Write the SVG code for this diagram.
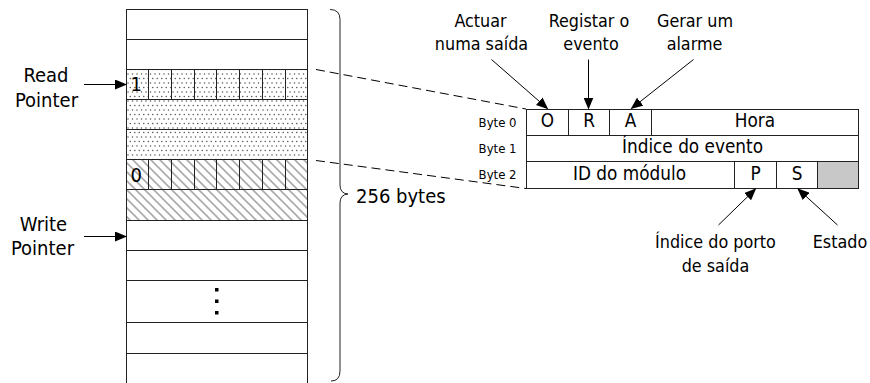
<svg xmlns="http://www.w3.org/2000/svg" width="870" height="383" viewBox="0 0 870 383">
  <style>
    text { font-family: "DejaVu Sans Condensed", "DejaVu Sans", "Liberation Sans", sans-serif; font-stretch: condensed; fill: #000; }
    .big { font-size: 20px; }
    .lbl { font-size: 17.8px; text-anchor: middle; }
    .fld { font-size: 18.8px; text-anchor: middle; }
    .byte { font-size: 13px; text-anchor: end; }
    .ln { stroke: #222; stroke-width: 1; fill: none; }
    .arrow { stroke: #000; stroke-width: 1; fill: none; marker-end: url(#head); }
    .dash { stroke: #000; stroke-width: 1; fill: none; stroke-dasharray: 9 5; }
  </style>
  <defs>
    <marker id="head" markerUnits="userSpaceOnUse" markerWidth="12" markerHeight="10" refX="11" refY="5" orient="auto">
      <path d="M0,0 L12,5 L0,10 Z" fill="#000"/>
    </marker>
    <pattern id="dots" patternUnits="userSpaceOnUse" width="9" height="9">
      <rect width="9" height="9" fill="#fff"/>
      <circle cx="2" cy="2" r="0.75" fill="#555"/>
      <circle cx="6.5" cy="2" r="0.75" fill="#555"/>
      <circle cx="4.25" cy="6.5" r="0.75" fill="#555"/>
      <circle cx="8.75" cy="6.5" r="0.75" fill="#555"/>
      <circle cx="-0.25" cy="6.5" r="0.75" fill="#555"/>
    </pattern>
    <pattern id="hatch" patternUnits="userSpaceOnUse" width="9" height="9">
      <rect width="9" height="9" fill="#fff"/>
      <path d="M-2,-2 L11,11 M-2,7 L2,11 M7,-2 L11,2" stroke="#aaa" stroke-width="1.6"/>
    </pattern>
  </defs>

  <!-- circular buffer of event records -->
  <g id="buffer">
    <rect x="126.5" y="69.5" width="181" height="90" fill="url(#dots)"/>
    <rect x="126.5" y="159.5" width="181" height="61" fill="url(#hatch)"/>
    <rect x="126.5" y="9.5" width="181" height="380" class="ln"/>
    <path class="ln" d="M126.5,39.5 H307.5 M126.5,69.5 H307.5 M126.5,99.5 H307.5 M126.5,129.5 H307.5 M126.5,159.5 H307.5 M126.5,189.5 H307.5 M126.5,220.5 H307.5 M126.5,250.5 H307.5 M126.5,280.5 H307.5 M126.5,322.5 H307.5 M126.5,353.5 H307.5"/>
    <!-- bit cells of the first record bytes -->
    <path class="ln" d="M148.5,69.5 V99.5 M171.5,69.5 V99.5 M194.5,69.5 V99.5 M216.5,69.5 V99.5 M239.5,69.5 V99.5 M262.5,69.5 V99.5 M285.5,69.5 V99.5"/>
    <path class="ln" d="M148.5,159.5 V189.5 M171.5,159.5 V189.5 M194.5,159.5 V189.5 M216.5,159.5 V189.5 M239.5,159.5 V189.5 M262.5,159.5 V189.5 M285.5,159.5 V189.5"/>
    <text class="big" x="130.5" y="90.5">1</text>
    <text class="big" x="130.5" y="181.5">0</text>
    <!-- ellipsis -->
    <rect x="215" y="288" width="3.5" height="3.5" fill="#000"/>
    <rect x="215" y="299.5" width="3.5" height="3.5" fill="#000"/>
    <rect x="215" y="311" width="3.5" height="3.5" fill="#000"/>
  </g>

  <g id="read-pointer">
    <text class="big" x="46" y="81.7" text-anchor="middle">Read</text>
    <text class="big" x="46.5" y="106.5" text-anchor="middle">Pointer</text>
  </g>
  <g id="write-pointer">
    <text class="big" x="43.5" y="230.5" text-anchor="middle">Write</text>
    <text class="big" x="42.5" y="255" text-anchor="middle">Pointer</text>
  </g>

  <g id="size-brace">
    <path class="ln" d="M330,9.5 Q340,9.5 340,19.5 L340,185 Q340,193.5 348,194 Q340,194.5 340,203 L340,371 Q340,381 331,381"/>
    <text class="big" x="356" y="203.3">256 bytes</text>
  </g>

  <!-- record layout -->
  <g id="record">
    <rect x="817.5" y="161.5" width="41" height="27" fill="#c8c8c8"/>
    <rect x="526.5" y="109.5" width="332" height="79" class="ln"/>
    <path class="ln" d="M526.5,135.5 H858.5 M526.5,161.5 H858.5 M568.5,109.5 V135.5 M609.5,109.5 V135.5 M651.5,109.5 V135.5 M734.5,161.5 V188.5 M776.5,161.5 V188.5 M817.5,161.5 V188.5"/>
    <text class="fld" x="547.5" y="127">O</text>
    <text class="fld" x="589" y="127">R</text>
    <text class="fld" x="630.5" y="127">A</text>
    <text class="fld" x="755" y="127">Hora</text>
    <text class="fld" x="692.5" y="153">Índice do evento</text>
    <text class="fld" x="629.5" y="179.5">ID do módulo</text>
    <text class="fld" x="755.5" y="179.5">P</text>
    <text class="fld" x="797" y="179.5">S</text>
    <text class="byte" x="516.5" y="126.5">Byte 0</text>
    <text class="byte" x="516.5" y="152.5">Byte 1</text>
    <text class="byte" x="516.5" y="179">Byte 2</text>
  </g>

  <g id="label-o">
    <text class="lbl" x="480.5" y="26.7">Actuar</text>
    <text class="lbl" x="481.5" y="50">numa saída</text>
  </g>
  <g id="label-r">
    <text class="lbl" x="589" y="26.7">Registar o</text>
    <text class="lbl" x="591" y="50">evento</text>
  </g>
  <g id="label-a">
    <text class="lbl" x="695" y="26.7">Gerar um</text>
    <text class="lbl" x="694.5" y="50">alarme</text>
  </g>
  <g id="label-p">
    <text class="lbl" x="715.5" y="248">Índice do porto</text>
    <text class="lbl" x="715.5" y="271.5">de saída</text>
  </g>
  <g id="label-s">
    <text class="lbl" x="840" y="248">Estado</text>
  </g>

  <g id="connectors">
    <line class="arrow" x1="84" y1="84.5" x2="126" y2="84.5"/>
    <line class="arrow" x1="84" y1="236.5" x2="126" y2="236.5"/>
    <line class="dash" x1="316" y1="69.5" x2="526" y2="109"/>
    <line class="dash" x1="316" y1="160.5" x2="526" y2="188.5"/>
    <line class="arrow" x1="491.5" y1="59.5" x2="547.5" y2="108.5"/>
    <line class="arrow" x1="588.5" y1="59.5" x2="588.5" y2="108.5"/>
    <line class="arrow" x1="693.5" y1="59.5" x2="631.5" y2="108.5"/>
    <line class="arrow" x1="718.5" y1="225" x2="755.5" y2="189"/>
    <line class="arrow" x1="837.5" y1="225" x2="798" y2="189"/>
  </g>
</svg>
